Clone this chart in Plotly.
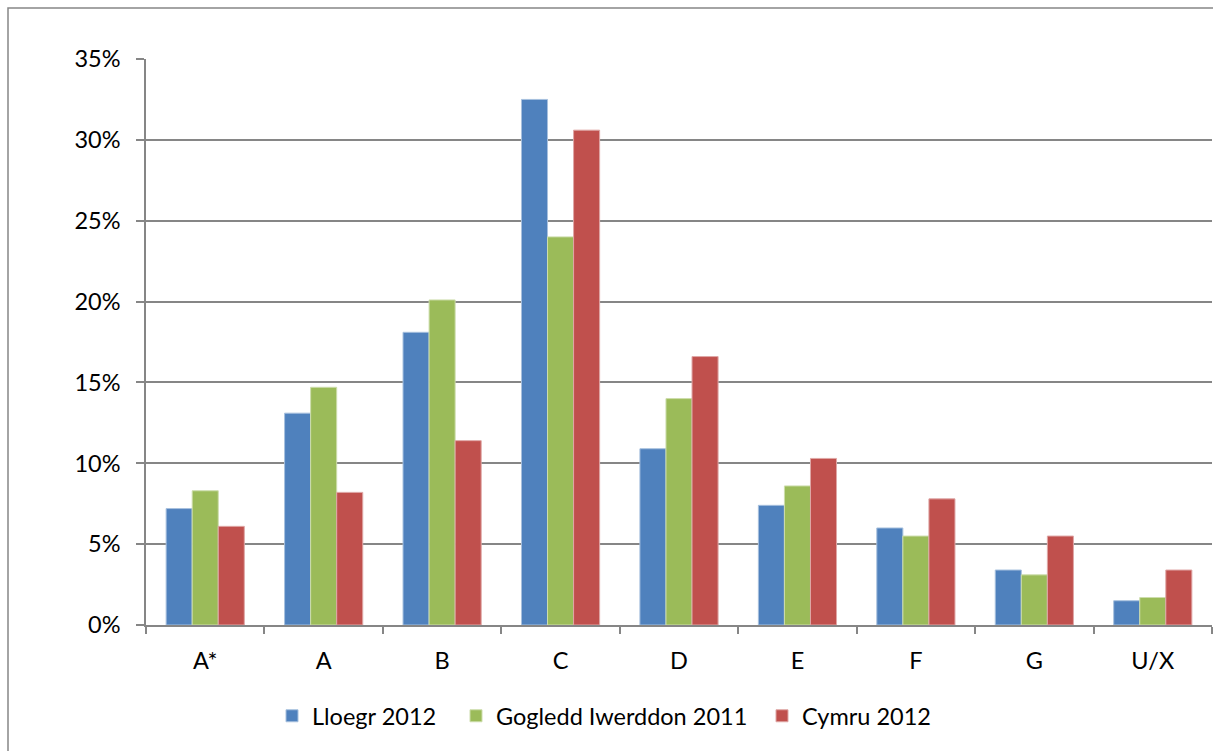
import plotly.graph_objects as go

categories = ["A*", "A", "B", "C", "D", "E", "F", "G", "U/X"]
lloegr_2012 = [7.2, 13.1, 18.1, 32.5, 10.9, 7.4, 6.0, 3.4, 1.5]
gogledd_iwerddon_2011 = [8.3, 14.7, 20.1, 24.0, 14.0, 8.6, 5.5, 3.1, 1.7]
cymru_2012 = [6.1, 8.2, 11.4, 30.6, 16.6, 10.3, 7.8, 5.5, 3.4]

series_names = ["Lloegr 2012", "Gogledd Iwerddon 2011", "Cymru 2012"]
series_values = [lloegr_2012, gogledd_iwerddon_2011, cymru_2012]
colors = ["#4F81BD", "#9BBB59", "#C0504D"]
edge_colors = ["#A7C0DE", "#CDDDAC", "#DFA7A6"]
legend_ids = ["legend", "legend2", "legend3"]
legend_px = [272, 456, 762]

W, H = 1213, 751
L, R, T, B = 146, 1, 59, 126
pw, ph = W - L - R, H - T - B

fig = go.Figure()
for name, vals, c, ec, lid in zip(series_names, series_values, colors, edge_colors, legend_ids):
    fig.add_trace(go.Bar(
        x=categories, y=vals, name=name, legend=lid,
        marker=dict(color=c, line=dict(color=ec, width=1)),
    ))

font = dict(family="Lato, 'Open Sans', sans-serif", size=23.5, color="#000000")

legends = {}
for lid, px in zip(legend_ids, legend_px):
    legends[lid] = dict(
        orientation="h", x=(px - L) / pw, xanchor="left",
        y=-(716 - 625) / ph, yanchor="middle",
        font=font, itemwidth=30, bgcolor="rgba(0,0,0,0)",
    )

fig.update_layout(
    width=W, height=H,
    margin=dict(l=L, r=R, t=T, b=B, pad=0),
    paper_bgcolor="white", plot_bgcolor="white",
    font=font,
    barmode="group", bargap=0.34, bargroupgap=0,
    showlegend=True,
    **legends,
    xaxis=dict(
        type="category", showgrid=False, showline=True, linecolor="#868686", linewidth=1.5,
        ticks="outside", tickson="boundaries", ticklen=7, tickcolor="#868686", tickwidth=1.5,
        tickfont=font, ticklabelstandoff=14, range=[-0.5, 8.5],
    ),
    yaxis=dict(
        range=[0, 35], dtick=5, tick0=0, ticksuffix="%",
        showgrid=True, gridcolor="#868686", gridwidth=1.8,
        showline=True, linecolor="#868686", linewidth=1.5,
        ticks="outside", ticklen=8, tickcolor="#868686", tickwidth=1.5,
        tickfont=font, ticklabelstandoff=11, zeroline=False,
    ),
    shapes=[dict(
        type="rect", xref="paper", yref="paper",
        x0=(8 - L) / pw, x1=1.05, y0=-0.4, y1=1 + (T - 8) / ph,
        line=dict(color="#868686", width=1.5), fillcolor="rgba(0,0,0,0)", layer="below",
    )],
)

fig.write_html("out.html")
